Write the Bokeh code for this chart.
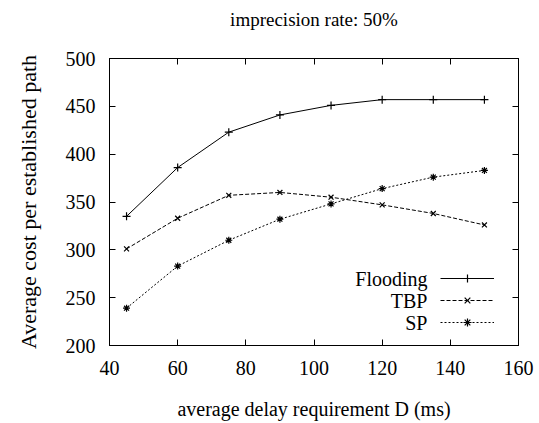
from bokeh.plotting import figure
from bokeh.models import (LinearAxis, Range1d, FixedTicker, Legend, LegendItem, Label)
from bokeh.embed import file_html
from bokeh.resources import INLINE

# ---- data ----
delay = [45, 60, 75, 90, 105, 120, 135, 150]
flooding = [335, 386, 423, 441, 451, 457, 457, 457]
tbp = [301, 333, 357, 360, 355, 347, 338, 326]
sp = [239, 283, 310, 332, 348, 364, 376, 383]
series_names = ["Flooding", "TBP", "SP"]
x_ticks = [40, 60, 80, 100, 120, 140, 160]
y_ticks = [200, 250, 300, 350, 400, 450, 500]
title_text = "imprecision rate: 50%"
x_label = "average delay requirement D (ms)"
y_label = "Average cost per established path"

FONT = "'Liberation Serif', 'Times New Roman', serif"

p = figure(width=539, height=423, output_backend="svg", toolbar_location=None,
           x_range=Range1d(40, 160), y_range=Range1d(200, 500),
           min_border_left=109, min_border_right=21, min_border_top=57,
           min_border_bottom=78)
p.title.text = title_text
p.title.align = "center"
p.title.text_font = FONT
p.title.text_font_size = "19px"
p.title.text_font_style = "normal"
p.title.text_color = "black"
p.title.standoff = 12

p.grid.visible = False
p.outline_line_color = "black"
p.outline_line_width = 1
p.background_fill_color = "white"
p.border_fill_color = "white"

for ax in (p.xaxis[0], p.yaxis[0]):
    ax.major_tick_in = 6
    ax.major_tick_out = 0
    ax.minor_tick_in = 0
    ax.minor_tick_out = 0
    ax.axis_line_color = "black"
    ax.major_tick_line_color = "black"
    ax.major_label_text_font = FONT
    ax.major_label_text_font_size = "20px"
    ax.major_label_text_color = "black"
    ax.axis_label_text_font = FONT
    ax.axis_label_text_font_style = "normal"
    ax.axis_label_text_color = "black"

p.xaxis[0].ticker = FixedTicker(ticks=x_ticks)
p.yaxis[0].ticker = FixedTicker(ticks=y_ticks)
p.xaxis[0].axis_label = x_label
p.yaxis[0].axis_label = y_label
p.xaxis[0].axis_label_text_font_size = "20px"
p.yaxis[0].axis_label_text_font_size = "22px"
p.xaxis[0].major_label_standoff = 15
p.yaxis[0].major_label_standoff = 14
p.xaxis[0].axis_label_standoff = 20
p.yaxis[0].axis_label_standoff = 22

# mirrored tick axes (top and right), no labels
for loc, tk in (("above", x_ticks), ("right", y_ticks)):
    ax = LinearAxis(ticker=FixedTicker(ticks=tk), major_tick_in=6, major_tick_out=0,
                    minor_tick_in=0, minor_tick_out=0, major_label_text_font_size="0px",
                    major_label_standoff=0, axis_line_color="black",
                    major_tick_line_color="black")
    ax.major_label_text_alpha = 0
    if loc == "above":
        # blank spacer label to lift the title away from the frame
        ax.axis_label = " "
        ax.axis_label_text_font_size = "18px"
        ax.axis_label_standoff = 0
        ax.axis_label_text_alpha = 0
    p.add_layout(ax, loc)

styles = [
    dict(dash="solid", marker="cross", size=8),
    dict(dash="4 2", marker="x", size=7),
    dict(dash="2 2", marker="asterisk", size=7),
]
items = []
for ys, st in zip([flooding, tbp, sp], styles):
    r1 = p.line(delay, ys, line_color="black", line_width=1, line_dash=st["dash"])
    r2 = p.scatter(delay, ys, marker=st["marker"], size=st["size"], line_color="black",
                   fill_color="black", line_width=1.2)
    items.append(LegendItem(label="", renderers=[r1, r2]))

legend = Legend(items=items, location=(331, 13), glyph_width=54, glyph_height=20,
                label_width=0, label_standoff=0, label_height=20, padding=0, spacing=2,
                margin=0, border_line_color=None, background_fill_alpha=0,
                label_text_font_size="1px")
p.add_layout(legend, "center")

# legend texts (to the left of the samples)
legend_text_x = 133.3
legend_text_y = [269.8, 246.9, 224.0]
for name, ly in zip(series_names, legend_text_y):
    p.add_layout(Label(x=legend_text_x, y=ly, text=name, text_align="right",
                       text_baseline="middle", text_font=FONT, text_font_size="20px",
                       text_color="black"))

open("out.html", "w").write(file_html(p, INLINE))
